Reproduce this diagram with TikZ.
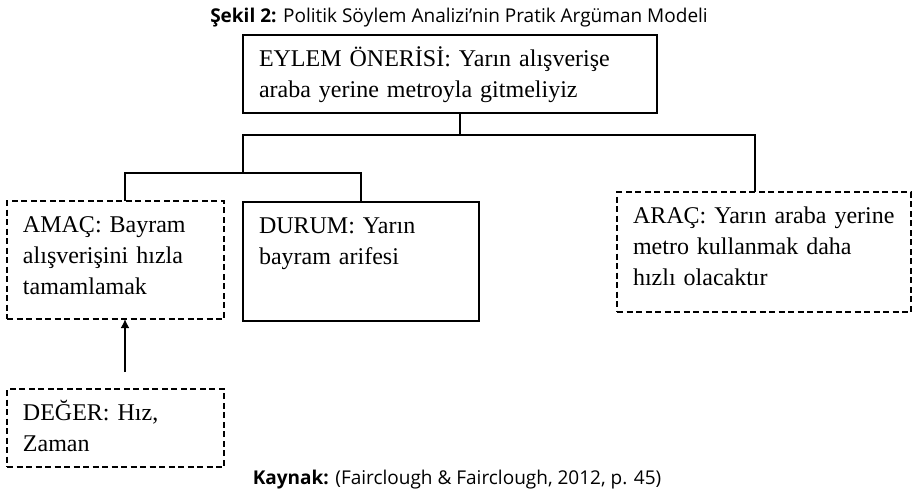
\documentclass[tikz,border=0pt]{standalone}
\usepackage{fontspec}
\setmainfont{Liberation Serif}
\newfontfamily\capfont{Open Sans}
\usetikzlibrary{arrows.meta}
\tikzset{
	argbox/.style={rectangle, draw=black, line width=1.1, anchor=north west, align=left, inner xsep=16pt, inner ysep=0pt, text height=31pt, font=\fontsize{24}{31}\selectfont},
	dashbox/.style={argbox, dash pattern=on 6pt off 3.5pt},
	link/.style={line width=2.7},
	caption/.style={anchor=base, font=\capfont\fontsize{19}{22}\selectfont}
}
\begin{document}
\begin{tikzpicture}[y=1pt, x=1pt, yscale=-1, inner sep=0pt, outer sep=0pt]
	\useasboundingbox (0,0) rectangle (912,501);
	\node[caption] (title) at (459,22) {\textbf{Şekil 2:} Politik Söylem Analizi’nin Pratik Argüman Modeli};
	\node[argbox, text width=382pt, text depth=47pt] (eylem) at (243,35) {EYLEM ÖNERİSİ: Yarın alışverişe\\araba yerine metroyla gitmeliyiz};
	\node[dashbox, text width=185pt, text depth=87pt] (amac) at (7,201) {AMAÇ: Bayram\\alışverişini hızla\\tamamlamak};
	\node[argbox, text width=204pt, text depth=88pt] (durum) at (243,202) {DURUM: Yarın\\bayram arifesi};
	\node[dashbox, text width=262pt, text depth=89pt] (arac) at (617,192) {ARAÇ: Yarın araba yerine\\metro kullanmak daha\\hızlı olacaktır};
	\node[dashbox, text width=185pt, text depth=47pt] (deger) at (7,389) {DEĞER: Hız,\\Zaman};
	\node[caption] (kaynak) at (457,484) {\textbf{Kaynak:} (Fairclough \& Fairclough, 2012, p. 45)};
	\coordinate (hub) at (460,135);
	\coordinate (fork) at (243,173);
	\coordinate (tail) at (125,372);
	\draw[link] (hub |- eylem.south) -- (hub);
	\draw[link] (fork) |- (hub) -| ([xshift=138]arac.north west);
	\draw[link] ([xshift=118]amac.north west) |- (fork) -| ([xshift=118]durum.north west);
	\draw[link, -{Latex[length=9pt, width=9pt]}] (tail) -- (tail |- amac.south);
\end{tikzpicture}
\end{document}
